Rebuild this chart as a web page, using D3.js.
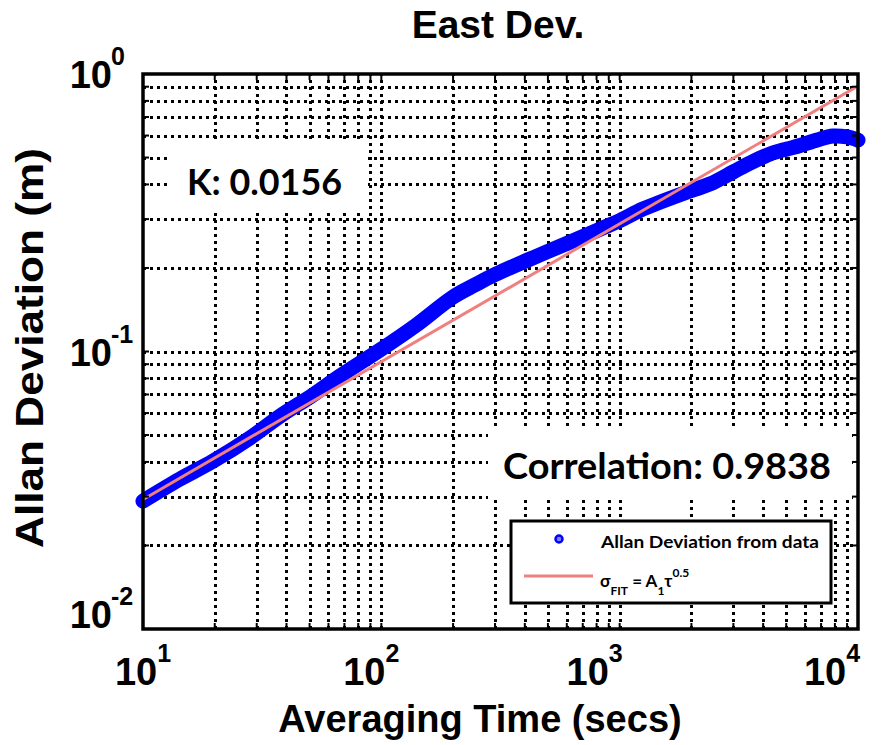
<!DOCTYPE html>
<html>
<head>
<meta charset="utf-8">
<script src="https://cdn.jsdelivr.net/npm/d3@7"></script>
<style>
  body { margin: 0; background: #fff; }
  svg { display: block; }
</style>
</head>
<body>
<div id="chart"></div>
<script>
// Allan deviation
const tauData = [10, 14.3, 19.7, 28.1, 38.7, 50.2, 67.1, 98.7, 138.5, 200, 247, 300, 450, 650, 828, 1004, 1254, 1974, 2395, 2991, 3526, 4278, 5041, 5715, 6736, 7862, 9001, 10000];
const sigmaData = [0.0289, 0.0347, 0.0403, 0.0488, 0.0595, 0.0686, 0.0816, 0.1012, 0.1236, 0.1572, 0.1737, 0.1894, 0.2208, 0.2522, 0.2763, 0.2966, 0.3263, 0.3789, 0.4015, 0.4434, 0.4778, 0.5150, 0.5369, 0.5527, 0.5785, 0.5978, 0.593, 0.578];

// fit line end points (sigma = A1 * tau^0.5)
const fitTau = [10, 10000];
const fitSigma = [0.0293, 0.905];

const xTickExp = [1, 2, 3, 4];
const yTickExp = [0, -1, -2];
const kText = "K: 0.0156";
const corrText = "Correlation: 0.9838";

const W = 892, H = 745;
const plotL = 143, plotR = 858, plotT = 74, plotB = 629;

const svg = d3.select("#chart")
  .append("svg")
    .attr("width", W)
    .attr("height", H)

const x = d3.scaleLog().domain([10, 1e4]).range([plotL, plotR]);
const y = d3.scaleLog().domain([0.01, 1]).range([plotB, plotT]);

// grid values: 1..9 x each decade
const xGrid = [], yGrid = [];
for (let d = 1; d < 4; d++) for (let k = 1; k < 10; k++) xGrid.push(k * Math.pow(10, d));
for (let d = -2; d < 0; d++) for (let k = 1; k < 10; k++) yGrid.push(k * Math.pow(10, d));

const gridStyle = g => g
  .call(g => g.select(".domain").remove())
  .call(g => g.selectAll("text").remove())
  .call(g => g.selectAll("line")
    .attr("stroke", "#000")
    .attr("stroke-width", 3)
    .attr("stroke-dasharray", "3,4")
    .attr("shape-rendering", "crispEdges"));

svg.append("g")
  .attr("transform", `translate(0,${plotB})`)
  .call(d3.axisBottom(x).tickValues(xGrid.filter(v => v > 10)).tickSize(-(plotB - plotT)))
  .call(gridStyle);

svg.append("g")
  .attr("transform", `translate(${plotL},0)`)
  .call(d3.axisLeft(y).tickValues(yGrid.filter(v => v > 0.01)).tickSize(-(plotR - plotL)))
  .call(gridStyle);

// text boxes hide the grid
svg.append("rect").attr("x", 167).attr("y", 140).attr("width", 201).attr("height", 70).attr("fill", "#fff");
svg.append("rect").attr("x", 488).attr("y", 427).attr("width", 364).attr("height", 73).attr("fill", "#fff");

// data band (dense markers)
const pts = tauData.map((t, i) => [t, sigmaData[i]]);
const line = d3.line()
  .x(d => x(d[0]))
  .y(d => y(d[1]))
  .curve(d3.curveCatmullRom.alpha(0.5));

svg.append("path")
  .datum(pts)
  .attr("d", line)
  .attr("fill", "none")
  .attr("stroke", "#0000ff")
  .attr("stroke-width", 15)
  .attr("stroke-linecap", "round")
  .attr("stroke-linejoin", "round");

svg.append("path")
  .datum(fitTau.map((t, i) => [t, fitSigma[i]]))
  .attr("d", d3.line().x(d => x(d[0])).y(d => y(d[1])))
  .attr("fill", "none")
  .attr("stroke", "#f08080")
  .attr("stroke-width", 3);

// tick marks on all sides
const tickLen = 6;
const tk = svg.append("g").attr("stroke", "#000").attr("stroke-width", 2);
xGrid.concat([1e4]).forEach(v => {
  tk.append("line").attr("x1", x(v)).attr("x2", x(v)).attr("y1", plotB).attr("y2", plotB - tickLen);
  tk.append("line").attr("x1", x(v)).attr("x2", x(v)).attr("y1", plotT).attr("y2", plotT + tickLen);
});
yGrid.concat([1]).forEach(v => {
  tk.append("line").attr("y1", y(v)).attr("y2", y(v)).attr("x1", plotL).attr("x2", plotL + tickLen);
  tk.append("line").attr("y1", y(v)).attr("y2", y(v)).attr("x1", plotR).attr("x2", plotR - tickLen);
});

// frame
svg.append("rect")
  .attr("x", plotL).attr("y", plotT)
  .attr("width", plotR - plotL).attr("height", plotB - plotT)
  .attr("fill", "none")
  .attr("stroke", "#000")
  .attr("stroke-width", 3.5);

const arial = "'Liberation Sans', Arial, sans-serif";
const calib = "Lato, 'Open Sans', sans-serif";

// x tick labels
const xShift = [0, -10, -25, -26];
xTickExp.forEach((e, i) => {
  const cx = x(Math.pow(10, e)) + xShift[i];
  const t = svg.append("text")
    .attr("x", cx).attr("y", 685)
    .attr("text-anchor", "middle")
    .style("font-family", arial).style("font-weight", "bold").style("font-size", "38px");
  t.append("tspan").text("10");
  t.append("tspan").attr("dy", -23).style("font-size", "25px").text(e);
});

// y tick labels
const yShift = [0, 0, -15];
yTickExp.forEach((e, i) => {
  const cy = y(Math.pow(10, e)) + yShift[i] + 14;
  svg.append("text")
    .attr("x", 112).attr("y", cy)
    .attr("text-anchor", "end")
    .style("font-family", arial).style("font-weight", "bold").style("font-size", "38px")
    .text("10");
  svg.append("text")
    .attr("x", 111).attr("y", cy - 23)
    .style("font-family", arial).style("font-weight", "bold").style("font-size", "25px")
    .text(e);
});

// titles
svg.append("text")
  .attr("x", 498).attr("y", 38)
  .attr("text-anchor", "middle")
  .style("font-family", arial).style("font-weight", "bold").style("font-size", "39px")
  .text("East Dev.");

svg.append("text")
  .attr("x", 480).attr("y", 732)
  .attr("text-anchor", "middle")
  .style("font-family", arial).style("font-weight", "bold").style("font-size", "38px")
  .text("Averaging Time (secs)");

svg.append("text")
  .attr("transform", "translate(43,348) rotate(-90)")
  .attr("text-anchor", "middle")
  .attr("textLength", 400).attr("lengthAdjust", "spacingAndGlyphs")
  .style("font-family", arial).style("font-weight", "bold").style("font-size", "39px")
  .text("Allan Deviation (m)");

// annotation texts
svg.append("text")
  .attr("x", 187).attr("y", 195)
  .attr("textLength", 155).attr("lengthAdjust", "spacingAndGlyphs")
  .style("font-family", calib).style("font-weight", "bold").style("font-size", "37px")
  .text(kText);

svg.append("text")
  .attr("x", 503).attr("y", 479)
  .attr("textLength", 328).attr("lengthAdjust", "spacingAndGlyphs")
  .style("font-family", calib).style("font-weight", "bold").style("font-size", "37px")
  .text(corrText);

// legend
const lg = svg.append("g");
lg.append("rect")
  .attr("x", 511).attr("y", 521).attr("width", 320).attr("height", 82)
  .attr("fill", "#fff").attr("stroke", "#000").attr("stroke-width", 3);
lg.append("circle")
  .attr("cx", 559).attr("cy", 539).attr("r", 3.5)
  .attr("fill", "#8080ff").attr("stroke", "#0000ff").attr("stroke-width", 2.5);
lg.append("text")
  .attr("x", 601).attr("y", 548)
  .attr("textLength", 218).attr("lengthAdjust", "spacingAndGlyphs")
  .style("font-family", calib).style("font-weight", "bold").style("font-size", "17px")
  .text("Allan Deviation from data");
lg.append("line")
  .attr("x1", 524).attr("x2", 593).attr("y1", 576).attr("y2", 576)
  .attr("stroke", "#f08080").attr("stroke-width", 3);
const ft = lg.append("text")
  .attr("x", 600).attr("y", 587)
  .style("font-family", calib).style("font-weight", "bold").style("font-size", "17px");
ft.append("tspan").text("σ");
ft.append("tspan").attr("dy", 8).style("font-size", "12px").text("FIT");
ft.append("tspan").attr("dy", -8).text(" = A");
ft.append("tspan").attr("dy", 8).style("font-size", "12px").text("1");
ft.append("tspan").attr("dy", -8).text("τ");
ft.append("tspan").attr("dy", -10).style("font-size", "12px").text("0.5");
</script>
</body>
</html>
